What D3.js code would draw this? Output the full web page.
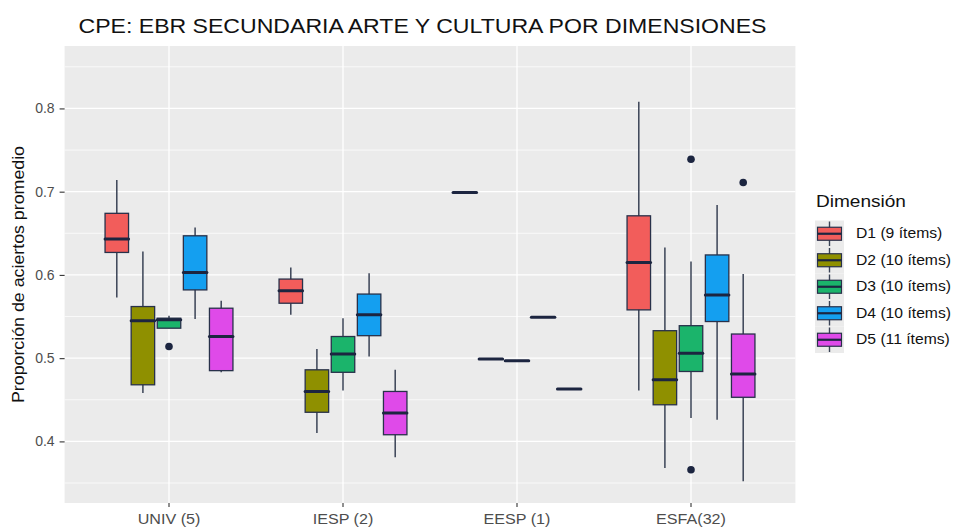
<!DOCTYPE html>
<html>
<head>
<meta charset="utf-8">
<script src="https://cdn.jsdelivr.net/npm/d3@7"></script>
<style>
  body { margin: 0; background: #fff; }
  text { font-family: "Liberation Sans", Arial, sans-serif; }
</style>
</head>
<body>
<div class="js-chart"></div>
<script>
(function() {
  'use strict';

  /* ------------------------------------------------------------ *\
      Data
  \* ------------------------------------------------------------ */

  var groups = ['UNIV (5)', 'IESP (2)', 'EESP (1)', 'ESFA(32)'];
  var dims = ['D1 (9 ítems)', 'D2 (10 ítems)', 'D3 (10 ítems)', 'D4 (10 ítems)', 'D5 (11 ítems)'];
  var colours = ['#f25d5b', '#8f9000', '#1bb46b', '#149ff0', '#df4ae9'];

  // per group: [lower whisker, q1, median, q3, upper whisker]
  var d1Stats = [[0.573, 0.627, 0.643, 0.674, 0.714], [0.552, 0.566, 0.581, 0.595, 0.609], [0.699, 0.699, 0.699, 0.699, 0.699], [0.461, 0.558, 0.615, 0.671, 0.808]];
  var d2Stats = [[0.458, 0.468, 0.545, 0.562, 0.628], [0.410, 0.435, 0.460, 0.486, 0.511], [0.499, 0.499, 0.499, 0.499, 0.499], [0.368, 0.444, 0.474, 0.533, 0.633]];
  var d3Stats = [[0.536, 0.536, 0.546, 0.548, 0.551], [0.461, 0.483, 0.505, 0.526, 0.548], [0.497, 0.497, 0.497, 0.497, 0.497], [0.428, 0.484, 0.506, 0.539, 0.616]];
  var d4Stats = [[0.547, 0.582, 0.603, 0.647, 0.657], [0.502, 0.527, 0.552, 0.577, 0.602], [0.549, 0.549, 0.549, 0.549, 0.549], [0.426, 0.544, 0.576, 0.624, 0.684]];
  var d5Stats = [[0.483, 0.485, 0.526, 0.560, 0.569], [0.381, 0.408, 0.434, 0.460, 0.486], [0.463, 0.463, 0.463, 0.463, 0.463], [0.352, 0.453, 0.481, 0.529, 0.601]];

  var outlierGroup = [0, 3, 3, 3];
  var outlierDim = [2, 2, 2, 4];
  var outlierValue = [0.514, 0.739, 0.366, 0.711];

  var yTicks = [0.4, 0.5, 0.6, 0.7, 0.8];
  var yMinor = [0.35, 0.45, 0.55, 0.65, 0.75, 0.85];

  var allStats = [d1Stats, d2Stats, d3Stats, d4Stats, d5Stats];

  /* ------------------------------------------------------------ *\
      Layout
  \* ------------------------------------------------------------ */

  var width = 953;
  var height = 527;
  var panel = { left: 64.6, right: 795.4, top: 46, bottom: 503 };
  var boxLine = '#28314a';
  var whiskerLine = '#3a4356';

  var svg = d3.select('.js-chart')
    .append('svg')
    .attr('width', width)
    .attr('height', height);

  var x = d3.scaleBand()
    .domain(groups)
    .range([panel.left, panel.right])
    .paddingInner(0)
    .paddingOuter(0.1);

  var xDim = d3.scaleBand()
    .domain(d3.range(dims.length))
    .range([-0.375 * x.bandwidth(), 0.375 * x.bandwidth()]);

  var boxWidth = xDim.bandwidth() * 0.9;

  var y = d3.scaleLinear()
    .domain([0.326, 0.875])
    .range([panel.bottom, panel.top]);

  function groupCenter(g) {
    return x(g) + x.bandwidth() / 2;
  }

  function dimCenter(gi, di) {
    return groupCenter(groups[gi]) + xDim(di) + xDim.bandwidth() / 2;
  }

  // the reference font runs wider than Liberation Sans, so stretch a bit
  function widen(sel, factor) {
    sel.each(function() {
      var w = this.getComputedTextLength();
      d3.select(this)
        .attr('textLength', w * factor)
        .attr('lengthAdjust', 'spacingAndGlyphs');
    });
  }

  /* ------------------------------------------------------------ *\
      Panel and grid
  \* ------------------------------------------------------------ */

  svg.append('rect')
    .attr('x', panel.left)
    .attr('y', panel.top)
    .attr('width', panel.right - panel.left)
    .attr('height', panel.bottom - panel.top)
    .attr('fill', '#ebebeb');

  svg.selectAll('.minor')
    .data(yMinor)
    .enter().append('line')
    .attr('x1', panel.left).attr('x2', panel.right)
    .attr('y1', function(d) { return y(d); })
    .attr('y2', function(d) { return y(d); })
    .attr('stroke', '#fff')
    .attr('stroke-width', 0.7);

  svg.selectAll('.major')
    .data(yTicks)
    .enter().append('line')
    .attr('x1', panel.left).attr('x2', panel.right)
    .attr('y1', function(d) { return y(d); })
    .attr('y2', function(d) { return y(d); })
    .attr('stroke', '#fff')
    .attr('stroke-width', 1.3);

  svg.selectAll('.vgrid')
    .data(groups)
    .enter().append('line')
    .attr('x1', groupCenter).attr('x2', groupCenter)
    .attr('y1', panel.top).attr('y2', panel.bottom)
    .attr('stroke', '#fff')
    .attr('stroke-width', 1.3);

  /* ------------------------------------------------------------ *\
      Axes
  \* ------------------------------------------------------------ */

  var yAxis = svg.append('g')
    .attr('transform', 'translate(' + panel.left + ',0)')
    .call(d3.axisLeft(y).tickValues(yTicks).tickFormat(d3.format('.1f')).tickSize(5).tickPadding(5));

  var xAxis = svg.append('g')
    .attr('transform', 'translate(0,' + panel.bottom + ')')
    .call(d3.axisBottom(x).tickSize(4).tickPadding(7));

  [yAxis, xAxis].forEach(function(ax) {
    ax.select('.domain').remove();
    ax.selectAll('.tick line').attr('stroke', '#333').attr('stroke-width', 1.1);
    ax.selectAll('.tick text')
      .attr('fill', '#4d4d4d')
      .style('font-size', '14px')
      .style('font-family', '"Liberation Sans", Arial, sans-serif');
  });

  widen(xAxis.selectAll('.tick text'), 1.15);

  /* ------------------------------------------------------------ *\
      Boxes
  \* ------------------------------------------------------------ */

  var boxes = [];
  allStats.forEach(function(stats, di) {
    stats.forEach(function(s, gi) {
      boxes.push({ gi: gi, di: di, s: s });
    });
  });

  var box = svg.selectAll('.box')
    .data(boxes)
    .enter().append('g')
    .attr('class', 'box');

  box.append('line')
    .attr('x1', function(d) { return dimCenter(d.gi, d.di); })
    .attr('x2', function(d) { return dimCenter(d.gi, d.di); })
    .attr('y1', function(d) { return y(d.s[0]); })
    .attr('y2', function(d) { return y(d.s[4]); })
    .attr('stroke', whiskerLine)
    .attr('stroke-width', 1.5);

  box.append('rect')
    .attr('x', function(d) { return dimCenter(d.gi, d.di) - boxWidth / 2; })
    .attr('y', function(d) { return y(d.s[3]); })
    .attr('width', boxWidth)
    .attr('height', function(d) { return y(d.s[1]) - y(d.s[3]); })
    .attr('fill', function(d) { return colours[d.di]; })
    .attr('stroke', boxLine)
    .attr('stroke-width', 1.3);

  box.append('line')
    .attr('x1', function(d) { return dimCenter(d.gi, d.di) - boxWidth / 2; })
    .attr('x2', function(d) { return dimCenter(d.gi, d.di) + boxWidth / 2; })
    .attr('y1', function(d) { return y(d.s[2]); })
    .attr('y2', function(d) { return y(d.s[2]); })
    .attr('stroke', '#1c2540')
    .attr('stroke-width', 3)
    .attr('stroke-linecap', 'round');

  svg.selectAll('.outlier')
    .data(outlierValue)
    .enter().append('circle')
    .attr('cx', function(d, i) { return dimCenter(outlierGroup[i], outlierDim[i]); })
    .attr('cy', function(d) { return y(d); })
    .attr('r', 3.8)
    .attr('fill', '#1c2540');

  /* ------------------------------------------------------------ *\
      Titles
  \* ------------------------------------------------------------ */

  svg.append('text')
    .attr('x', 78.5)
    .attr('y', 32.7)
    .attr('fill', '#111')
    .attr('textLength', 688)
    .attr('lengthAdjust', 'spacingAndGlyphs')
    .style('font-size', '21px')
    .text('CPE: EBR SECUNDARIA ARTE Y CULTURA POR DIMENSIONES');

  svg.append('text')
    .attr('transform', 'translate(24,' + (panel.top + panel.bottom) / 2 + ') rotate(-90)')
    .attr('text-anchor', 'middle')
    .attr('fill', '#111')
    .attr('textLength', 257)
    .attr('lengthAdjust', 'spacingAndGlyphs')
    .style('font-size', '16px')
    .text('Proporción de aciertos promedio');

  /* ------------------------------------------------------------ *\
      Legend
  \* ------------------------------------------------------------ */

  var legend = svg.append('g')
    .attr('transform', 'translate(815,0)');

  legend.append('text')
    .attr('x', 1)
    .attr('y', 207)
    .attr('fill', '#111')
    .style('font-size', '16px')
    .text('Dimensión')
    .call(widen, 1.19);

  var keyH = 26.5;
  var key = legend.selectAll('.key')
    .data(dims)
    .enter().append('g')
    .attr('transform', function(d, i) { return 'translate(0,' + (220.5 + i * keyH) + ')'; });

  key.append('rect')
    .attr('x', 0).attr('y', 0)
    .attr('width', 29).attr('height', keyH)
    .attr('fill', '#ebebeb');

  key.append('line')
    .attr('x1', 14.5).attr('x2', 14.5)
    .attr('y1', 1).attr('y2', keyH - 1)
    .attr('stroke', whiskerLine)
    .attr('stroke-width', 1.4);

  key.append('rect')
    .attr('x', 2.5).attr('y', keyH / 2 - 6.5)
    .attr('width', 24).attr('height', 13)
    .attr('fill', function(d, i) { return colours[i]; })
    .attr('stroke', boxLine)
    .attr('stroke-width', 1.2);

  key.append('line')
    .attr('x1', 2.5).attr('x2', 26.5)
    .attr('y1', keyH / 2).attr('y2', keyH / 2)
    .attr('stroke', '#1c2540')
    .attr('stroke-width', 2.2);

  key.append('text')
    .attr('x', 41)
    .attr('y', keyH / 2 + 4.7)
    .attr('fill', '#111')
    .style('font-size', '14px')
    .text(function(d) { return d; })
    .call(widen, 1.12);
})();
</script>
</body>
</html>
